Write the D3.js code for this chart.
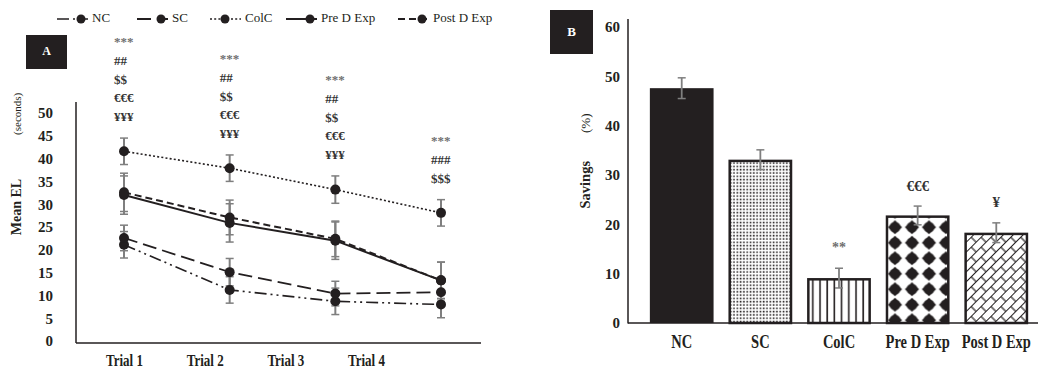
<!DOCTYPE html>
<html><head><meta charset="utf-8">
<script src="https://cdn.jsdelivr.net/npm/d3@7"></script>
<style>
html,body{margin:0;padding:0;background:#fff;}
svg{display:block;font-family:"Liberation Serif","Times New Roman",serif;}
</style></head>
<body>
<svg id="chart" width="1038" height="369"></svg>
<script>
// ---------- DATA ----------
const trials = ["Trial 1", "Trial 2", "Trial 3", "Trial 4"];
const seriesNames = ["NC", "SC", "ColC", "Pre D Exp", "Post D Exp"];
const ncMean   = [21.1, 11.2, 8.7, 8.0];
const ncErr    = [2.9, 2.9, 2.9, 2.9];
const scMean   = [22.6, 15.1, 10.4, 10.7];
const scErr    = [2.8, 3.0, 2.7, 2.0];
const colcMean = [41.6, 37.9, 33.2, 28.1];
const colcErr  = [2.9, 2.9, 3.0, 2.9];
const preMean  = [32.0, 25.9, 22.0, 13.3];
const preErr   = [4.2, 4.2, 4.1, 4.0];
const postMean = [32.6, 27.1, 22.4, 13.3];
const postErr  = [4.2, 3.8, 3.9, 4.0];
const yTicksA  = [0, 5, 10, 15, 20, 25, 30, 35, 40, 45, 50];
const annotA = [
  ["***", "##", "$$", "€€€", "¥¥¥"],
  ["***", "##", "$$", "€€€", "¥¥¥"],
  ["***", "##", "$$", "€€€", "¥¥¥"],
  ["***", "###", "$$$"]
];
const groupsB   = ["NC", "SC", "ColC", "Pre D Exp", "Post D Exp"];
const savings   = [47.6, 33.1, 9.1, 21.8, 18.3];
const savingsErr= [2.1, 2.0, 2.0, 1.9, 2.0];
const yTicksB   = [0, 10, 20, 30, 40, 50, 60];
const annotB    = ["", "", "**", "€€€", "¥"];

// ---------- STYLES ----------
const ink = "#231f20", errC = "#7f7f7f";
const svg = d3.select("#chart");
const defs = svg.append("defs");

// ---------- PANEL A ----------
const means = [ncMean, scMean, colcMean, preMean, postMean];
const errs  = [ncErr, scErr, colcErr, preErr, postErr];
const dashes = ["12,4,2,4,2,4", "14,6", "2,2.2", null, "7,4"];
const widths = [1.6, 1.8, 1.6, 2, 2];
const series = seriesNames.map((n, i) => ({
  name: n, dash: dashes[i], w: widths[i],
  pts: trials.map((t, j) => ({t, v: means[i][j], e: errs[i][j]}))
}));

const xA = d3.scalePoint().domain(trials).range([124, 441]);
const xLab = d3.scalePoint().domain(trials).range([124, 366]);
const yA = d3.scaleLinear().domain([0, 50]).range([341, 113]);

const gA = svg.append("g");
gA.append("line").attr("x1", 76).attr("x2", 76).attr("y1", yA(52.4)).attr("y2", 343)
  .attr("stroke", ink).attr("stroke-width", 1.5);
gA.append("line").attr("x1", 76).attr("x2", 481).attr("y1", 343).attr("y2", 343)
  .attr("stroke", ink).attr("stroke-width", 1.5);
const ya = gA.append("g").attr("transform", "translate(53,0)")
  .call(d3.axisLeft(yA).tickValues(yTicksA).tickSize(0).tickPadding(0));
ya.select(".domain").remove();
ya.selectAll("text").attr("font-family", "Liberation Serif").attr("font-weight", "bold")
  .attr("font-size", 15).attr("fill", ink);
const xa = gA.append("g").attr("transform", "translate(0,362)")
  .call(d3.axisBottom(xLab).tickSize(0).tickPadding(0));
xa.select(".domain").remove();
xa.selectAll("text").attr("font-family", "Liberation Serif").attr("font-weight", "bold")
  .attr("font-size", 13).attr("fill", ink).attr("y", 0).attr("dy", 0)
  .attr("dominant-baseline", "middle").attr("transform", "scale(1,1.25)");

const ytA = gA.append("text").attr("transform", "translate(21,164) rotate(-90)")
  .attr("text-anchor", "middle").attr("fill", ink).attr("font-size", 14);
ytA.append("tspan").attr("font-weight", "bold").text("Mean EL");
ytA.append("tspan").attr("dx", 44).attr("font-size", 11).text("(seconds)");

const line = d3.line().x(d => xA(d.t)).y(d => yA(d.v));
gA.selectAll("path.series").data(series).join("path").attr("class", "series")
  .attr("d", d => line(d.pts)).attr("fill", "none").attr("stroke", ink)
  .attr("stroke-width", d => d.w).attr("stroke-dasharray", d => d.dash);
series.forEach(s => {
  const g = gA.append("g");
  s.pts.forEach(p => {
    const x = xA(p.t), y1 = yA(p.v + p.e), y2 = yA(p.v - p.e);
    g.append("line").attr("x1", x).attr("x2", x).attr("y1", y1).attr("y2", y2)
      .attr("stroke", errC).attr("stroke-width", 2);
    [y1, y2].forEach(y => g.append("line").attr("x1", x - 4).attr("x2", x + 4)
      .attr("y1", y).attr("y2", y).attr("stroke", errC).attr("stroke-width", 1.5));
  });
});
series.forEach(s => {
  gA.append("g").selectAll("circle").data(s.pts).join("circle")
    .attr("cx", d => xA(d.t)).attr("cy", d => yA(d.v)).attr("r", 5).attr("fill", ink);
});
annotA.forEach((lines, j) => {
  const x = xA(trials[j]) - 10;
  const top = yA(colcMean[j] + colcErr[j]) - 20;
  lines.forEach((txt, k) => {
    gA.append("text").attr("x", x).attr("y", top - (lines.length - 1 - k) * 18.7)
      .attr("dominant-baseline", "middle").attr("font-size", 13).attr("font-weight", "bold")
      .attr("fill", txt.startsWith("*") ? "#6f6f6f" : "#333").text(txt);
  });
});
gA.append("rect").attr("x", 26).attr("y", 35).attr("width", 41).attr("height", 34).attr("fill", ink);
gA.append("text").attr("x", 46.5).attr("y", 52).attr("text-anchor", "middle")
  .attr("dominant-baseline", "middle").attr("fill", "#fff").attr("font-weight", "bold")
  .attr("font-size", 12).text("A");

// legend
const legX = [57, 137, 210, 286, 398];
const legG = svg.append("g");
series.forEach((s, i) => {
  const x = legX[i], y = 19;
  legG.append("line").attr("x1", x).attr("x2", x + 31).attr("y1", y).attr("y2", y)
    .attr("stroke", ink).attr("stroke-width", s.w).attr("stroke-dasharray", s.dash);
  legG.append("circle").attr("cx", x + (i === 2 ? 15 : 24)).attr("cy", y).attr("r", 4.5).attr("fill", ink);
  legG.append("text").attr("x", x + 35).attr("y", y).attr("dominant-baseline", "middle")
    .attr("font-size", 13).attr("fill", ink).text(s.name);
});

// ---------- PANEL B ----------
const pDots = defs.append("pattern").attr("id", "pDots").attr("patternUnits", "userSpaceOnUse")
  .attr("width", 3.3).attr("height", 3.3);
pDots.append("rect").attr("width", 3.3).attr("height", 3.3).attr("fill", "#fff");
pDots.append("rect").attr("x", 0.6).attr("y", 0.6).attr("width", 1.6).attr("height", 1.6).attr("fill", ink);

const pVert = defs.append("pattern").attr("id", "pVert").attr("patternUnits", "userSpaceOnUse")
  .attr("width", 7.2).attr("height", 10).attr("x", 809);
pVert.append("rect").attr("width", 7.2).attr("height", 10).attr("fill", "#fff");
pVert.append("rect").attr("x", 3).attr("width", 1.6).attr("height", 10).attr("fill", ink);

const pDiam = defs.append("pattern").attr("id", "pDiam").attr("patternUnits", "userSpaceOnUse")
  .attr("width", 17).attr("height", 15.5).attr("x", 886.5).attr("y", 219.5);
pDiam.append("rect").attr("width", 17).attr("height", 15.5).attr("fill", "#fff");
pDiam.append("circle").attr("cx", 8.5).attr("cy", 7.75).attr("r", 5.4).attr("fill", ink);
pDiam.append("path").attr("d", "M8.5,0.8 L15.6,7.75 L8.5,14.7 L1.4,7.75Z").attr("fill", ink);

const pBrick = defs.append("pattern").attr("id", "pBrick").attr("patternUnits", "userSpaceOnUse")
  .attr("width", 14).attr("height", 14).attr("patternTransform", "rotate(-45)");
pBrick.append("rect").attr("width", 14).attr("height", 14).attr("fill", "#fff");
pBrick.append("path").attr("d", "M0,0.5H14M0,7.5H14M1,0V7M8,7V14")
  .attr("stroke", ink).attr("stroke-width", 1.2).attr("fill", "none");

const fills = [ink, "url(#pDots)", "url(#pVert)", "url(#pDiam)", "url(#pBrick)"];

const xB = d3.scaleBand().domain(groupsB).range([642, 1036]).paddingInner(0.19).paddingOuter(0.1);
const yB = d3.scaleLinear().domain([0, 60]).range([323, 27]);
const gB = svg.append("g");

const barData = groupsB.map((g, i) => ({g, v: savings[i], e: savingsErr[i], f: fills[i], a: annotB[i], i}));
gB.selectAll("rect.bar").data(barData).join("rect").attr("class", "bar")
  .attr("x", d => xB(d.g) + (d.i ? 1.2 : 0)).attr("width", d => xB.bandwidth() - (d.i ? 2.4 : 0))
  .attr("y", d => yB(d.v) + (d.i ? 1.2 : 0)).attr("height", d => yB(0) - yB(d.v) - (d.i ? 1.2 : 0))
  .attr("fill", d => d.f).attr("stroke", d => d.i ? ink : "none").attr("stroke-width", 2.5);

gB.append("line").attr("x1", 628).attr("x2", 628).attr("y1", 19).attr("y2", 323.5)
  .attr("stroke", ink).attr("stroke-width", 1.5);
gB.append("line").attr("x1", 628).attr("x2", 1038).attr("y1", 323).attr("y2", 323)
  .attr("stroke", ink).attr("stroke-width", 1.5);
const yb = gB.append("g").attr("transform", "translate(620,0)")
  .call(d3.axisLeft(yB).tickValues(yTicksB).tickSize(0).tickPadding(0));
yb.select(".domain").remove();
yb.selectAll("text").attr("font-family", "Liberation Serif").attr("font-weight", "bold")
  .attr("font-size", 15).attr("fill", ink);
const xb = gB.append("g").attr("transform", "translate(0,344)")
  .call(d3.axisBottom(xB).tickSize(0).tickPadding(0));
xb.select(".domain").remove();
xb.selectAll("text").attr("font-family", "Liberation Serif").attr("font-weight", "bold")
  .attr("font-size", 14.5).attr("fill", ink).attr("y", 0).attr("dy", 0)
  .attr("dominant-baseline", "middle").attr("transform", "scale(1,1.25)");

barData.forEach(d => {
  const x = xB(d.g) + xB.bandwidth() / 2, y1 = yB(d.v + d.e), y2 = yB(d.v - d.e);
  gB.append("line").attr("x1", x).attr("x2", x).attr("y1", y1).attr("y2", y2)
    .attr("stroke", errC).attr("stroke-width", 1.8);
  [y1, y2].forEach(y => gB.append("line").attr("x1", x - 4).attr("x2", x + 4)
    .attr("y1", y).attr("y2", y).attr("stroke", errC).attr("stroke-width", 1.5));
  if (d.a) {
    gB.append("text").attr("x", x).attr("y", y1 - 19).attr("text-anchor", "middle")
      .attr("dominant-baseline", "middle").attr("font-weight", "bold")
      .attr("font-size", d.a.startsWith("*") ? 14 : 15)
      .attr("fill", d.a.startsWith("*") ? "#6f6f6f" : "#333").text(d.a);
  }
});

const ytB = gB.append("text").attr("transform", "translate(590,161) rotate(-90)")
  .attr("text-anchor", "middle").attr("fill", ink).attr("font-size", 14.5);
ytB.append("tspan").attr("font-weight", "bold").text("Savings");
ytB.append("tspan").attr("dx", 28).attr("font-size", 13).text("(%)");

gB.append("rect").attr("x", 550).attr("y", 10).attr("width", 43).attr("height", 44).attr("fill", ink);
gB.append("text").attr("x", 571.5).attr("y", 33).attr("text-anchor", "middle")
  .attr("dominant-baseline", "middle").attr("fill", "#fff").attr("font-weight", "bold")
  .attr("font-size", 13).text("B");
</script>
</body></html>
